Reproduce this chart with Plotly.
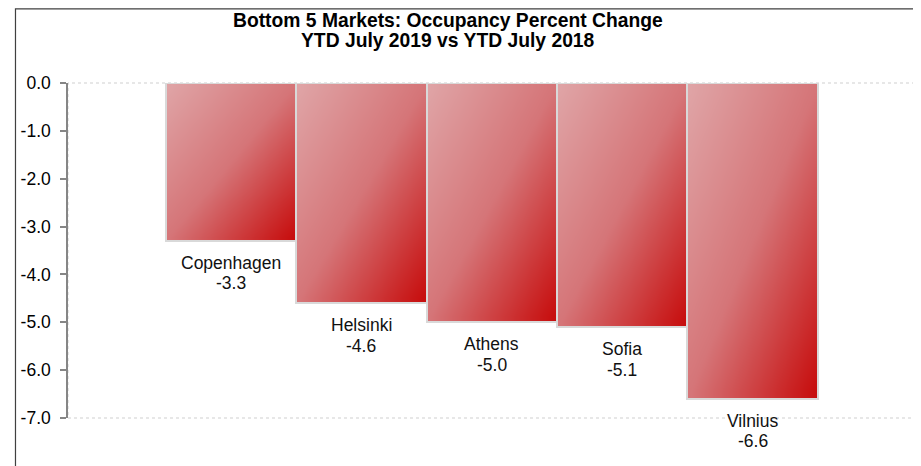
import numpy as np
import plotly.graph_objects as go

# ---- data ----
MARKETS = ["Copenhagen", "Helsinki", "Athens", "Sofia", "Vilnius"]
OCC_CHANGE = [-3.3, -4.6, -5.0, -5.1, -6.6]
TICK_VALUES = [0, -1, -2, -3, -4, -5, -6, -7]
TICK_LABELS = ["0.0", "-1.0", "-2.0", "-3.0", "-4.0", "-5.0", "-6.0", "-7.0"]
TITLE_LINES = ["Bottom 5 Markets: Occupancy Percent Change",
               "YTD July 2019 vs YTD July 2018"]

# ---- style ----
FONT = "Arial, Liberation Sans, Helvetica, sans-serif"
GRADIENT = [[0.0, "#dfa3a5"], [0.5, "#d57578"], [1.0, "#c70f0f"]]
N = 20  # gradient resolution inside each bar

fig = go.Figure()

xpos = list(range(len(MARKETS)))

# diagonal gradient fills (light top-left -> red bottom-right), one per bar
ramp = np.linspace(0, 1, N)
for i, v in zip(xpos, OCC_CHANGE):
    xe = np.linspace(i - 0.5, i + 0.5, N + 1)
    ye = np.linspace(v, 0, N + 1)  # increasing: row 0 is bottom of bar
    z = (ramp[None, :] + (1 - ramp[:, None])) / 2
    fig.add_trace(go.Heatmap(
        x=xe, y=ye, z=z, zmin=0, zmax=1, zsmooth="best",
        colorscale=GRADIENT, showscale=False, hoverinfo="skip",
    ))

# the bars themselves (outline + data)
fig.add_trace(go.Bar(
    x=xpos, y=OCC_CHANGE, width=1,
    customdata=MARKETS,
    hovertemplate="%{customdata}: %{y:.1f}<extra></extra>",
    marker=dict(color="rgba(0,0,0,0)", line=dict(color="#d9d9d9", width=2)),
))

# category + value labels below each bar end
LABEL_FONT = dict(family=FONT, size=17.5, color="#111111")
annotations = []
for i, (m, v) in enumerate(zip(MARKETS, OCC_CHANGE)):
    annotations.append(dict(x=i, y=v, xref="x", yref="y", text=m, showarrow=False,
                            yanchor="top", yshift=-10, font=LABEL_FONT))
    annotations.append(dict(x=i, y=v, xref="x", yref="y", text=f"{v:.1f}", showarrow=False,
                            yanchor="top", yshift=-30.5, font=LABEL_FONT))

# title (two lines)
TITLE_FONT = dict(family=FONT, size=19.3, color="#000000")
annotations.append(dict(x=0.4487, y=1.188, xref="paper", yref="paper",
                        text=f"<b>{TITLE_LINES[0]}</b>", showarrow=False,
                        xanchor="center", yanchor="middle", font=TITLE_FONT))
annotations.append(dict(x=0.4487, y=1.1254, xref="paper", yref="paper",
                        text=f"<b>{TITLE_LINES[1]}</b>", showarrow=False,
                        xanchor="center", yanchor="middle", font=TITLE_FONT))

shapes = [
    # dotted plot-area border
    dict(type="rect", xref="paper", yref="paper", x0=0, x1=1, y0=0, y1=1,
         line=dict(color="#cfcfcf", width=1, dash="dot"), layer="below"),
    # outer chart frame
    dict(type="rect", xref="paper", yref="paper", x0=-0.062, x1=1.0015, y0=-0.25, y1=1.2215,
         line=dict(color="#404040", width=1.2), fillcolor="rgba(0,0,0,0)", layer="above"),
]

fig.update_layout(
    width=913, height=458,
    margin=dict(l=60, r=6, t=75, b=48, autoexpand=False),
    paper_bgcolor="white", plot_bgcolor="white",
    showlegend=False, bargap=0,
    font=dict(family=FONT, size=17.5, color="#000000"),
    annotations=annotations, shapes=shapes,
    xaxis=dict(visible=False, range=[-1.25, 5.245], fixedrange=True),
    yaxis=dict(range=[-7, 0], tickvals=TICK_VALUES, ticktext=TICK_LABELS,
               showgrid=False, zeroline=False, automargin=False,
               showline=True, linecolor="#868686", linewidth=1.5,
               ticks="outside", ticklen=6, tickwidth=1.5, tickcolor="#868686",
               ticklabelstandoff=6,
               tickfont=dict(family=FONT, size=17.5, color="#000000")),
)

fig.write_html("out.html")
